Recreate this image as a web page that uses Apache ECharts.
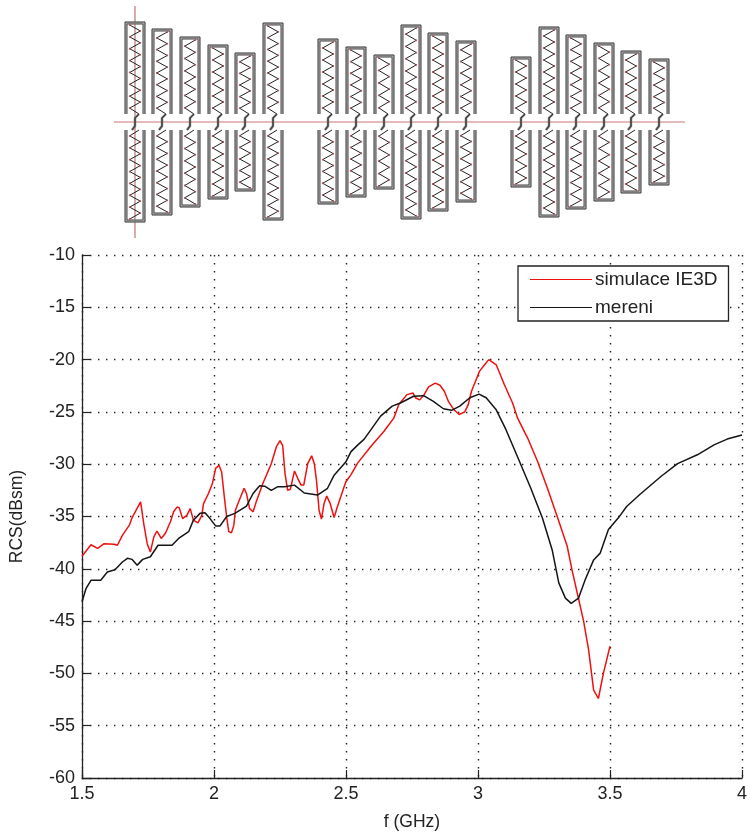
<!DOCTYPE html>
<html>
<head>
<meta charset="utf-8">
<style>html,body{margin:0;padding:0;background:#fff}#c{width:750px;height:836px}</style>
<script src="https://cdn.jsdelivr.net/npm/echarts@6/dist/echarts.min.js"></script>
</head>
<body>
<div id="c"></div>
<script>
// Chart values
var seriesNames = ['simulace IE3D', 'mereni'];
var simulace = [[1.5,-38.8],[1.534,-37.7],[1.559,-38.05],[1.584,-37.6],[1.622,-37.65],[1.634,-37.75],[1.653,-36.8],[1.68,-35.8],[1.69,-35.1],[1.722,-33.6],[1.734,-35.7],[1.747,-37.6],[1.759,-38.4],[1.772,-36.95],[1.784,-36.4],[1.8,-37.1],[1.816,-36.6],[1.835,-35.5],[1.847,-34.55],[1.86,-34.1],[1.868,-34.15],[1.881,-35.2],[1.897,-34.9],[1.91,-34.25],[1.922,-35.35],[1.939,-35.6],[1.954,-34.9],[1.96,-33.8],[1.979,-32.8],[1.994,-31.85],[2.006,-30.4],[2.019,-30.1],[2.029,-30.75],[2.039,-33.1],[2.048,-35.05],[2.056,-36.45],[2.066,-36.55],[2.075,-35.85],[2.081,-34.4],[2.098,-33.3],[2.114,-32.3],[2.123,-32.8],[2.135,-34.25],[2.148,-34.55],[2.16,-33.6],[2.185,-31.85],[2.217,-29.95],[2.236,-28.35],[2.25,-27.75],[2.26,-28.2],[2.269,-30.9],[2.279,-32.5],[2.289,-32.4],[2.305,-30.65],[2.317,-31.35],[2.33,-32],[2.34,-32],[2.355,-29.95],[2.37,-29.2],[2.38,-29.95],[2.388,-31.5],[2.398,-34.4],[2.407,-35.25],[2.417,-33.75],[2.427,-33.05],[2.44,-33.75],[2.455,-35.1],[2.467,-34.1],[2.499,-31.7],[2.519,-31.0],[2.544,-29.9],[2.594,-28.3],[2.644,-26.85],[2.681,-25.6],[2.7,-24.3],[2.731,-23.35],[2.754,-23.2],[2.763,-23.65],[2.779,-23.85],[2.796,-23.35],[2.813,-22.6],[2.838,-22.25],[2.856,-22.45],[2.873,-23.05],[2.888,-24],[2.909,-24.8],[2.929,-25.25],[2.95,-25],[2.963,-24.3],[2.975,-23.05],[2.991,-22.05],[3.006,-21.1],[3.025,-20.5],[3.041,-20],[3.069,-20.5],[3.1,-22.4],[3.131,-24.15],[3.15,-25.6],[3.188,-27.5],[3.225,-29.7],[3.263,-32.3],[3.3,-35],[3.338,-37.85],[3.356,-40.1],[3.379,-42.65],[3.4,-45],[3.419,-47.75],[3.438,-51.6],[3.456,-52.4],[3.475,-50],[3.5,-47.4]];
var mereni = [[1.5,-43.15],[1.515,-41.9],[1.534,-41.1],[1.571,-41.1],[1.596,-40.3],[1.625,-40.1],[1.653,-39.35],[1.672,-39],[1.69,-39.1],[1.709,-39.65],[1.73,-39.1],[1.759,-38.85],[1.788,-37.75],[1.841,-37.75],[1.866,-37.1],[1.904,-36.45],[1.922,-35.35],[1.947,-34.7],[1.966,-34.65],[1.985,-35.2],[2.006,-35.9],[2.023,-35.9],[2.048,-35],[2.079,-34.7],[2.123,-34],[2.148,-32.8],[2.173,-32.05],[2.192,-32.1],[2.217,-32.5],[2.242,-32.15],[2.267,-32.15],[2.305,-32],[2.342,-32.75],[2.392,-32.95],[2.43,-32.3],[2.455,-31.05],[2.499,-29.8],[2.519,-28.8],[2.543,-28.2],[2.569,-27.6],[2.631,-25.4],[2.675,-24.45],[2.706,-24.15],[2.756,-23.5],[2.794,-23.45],[2.831,-24],[2.869,-24.7],[2.9,-24.85],[2.931,-24.45],[2.969,-23.65],[3.004,-23.3],[3.031,-23.65],[3.069,-24.8],[3.106,-26.7],[3.144,-28.95],[3.2,-32.3],[3.244,-35.15],[3.281,-38.2],[3.306,-41.35],[3.331,-42.8],[3.353,-43.3],[3.381,-42.8],[3.406,-41.05],[3.438,-39.15],[3.463,-38.5],[3.494,-36.25],[3.531,-35.15],[3.563,-34.05],[3.613,-32.9],[3.694,-31.15],[3.756,-29.95],[3.831,-29.1],[3.894,-28.15],[3.944,-27.6],[4,-27.2]];

// Antenna sketch above the plot, in picture units
var dipoleLeft   = [125,152,180,208,235,263,318,346,374,401,428,456,511,539,566,594,621,649];
var dipoleTop    = [22,29,37,45,53,23,39,47,55,25,33,41,57,27,35,43,51,59];
var dipoleBottom = [222,215,207,199,191,220,204,197,189,219,211,202,187,217,209,201,193,185];
var feedLine = [[114,122],[685,122]];
var crossLine = [[135,6],[135,238]];

var chart = echarts.init(document.getElementById('c'));
var font = '"Liberation Sans", Arial, sans-serif';
var ink = '#222';

function renderDipole(params, api) {
  var x = api.value(0), top = api.value(1), bot = api.value(2);
  var P = function (a, b) { return api.coord([a, b]); };
  var W = 20, gapTop = 114, gapBot = 130;
  var kids = [];
  function line(pts, color, w) {
    kids.push({ type: 'polyline', shape: { points: pts }, style: { stroke: color, lineWidth: w, fill: null } });
  }
  function arm(yA, yB) {
    var dir = yB > yA ? 1 : -1;
    var pts = [P(x + 14, yA)];
    var n = Math.round(Math.abs(yB - yA - dir * 3) / 6);
    var step = (yB - dir * 3 - yA) / n;
    var dots = [];
    for (var i = 1; i <= n; i++) {
      var q = P(x + 10 + (i % 2 ? -5.3 : 5.3), yA + step * i);
      pts.push(q); dots.push(q);
    }
    line(pts, '#222', 1);
    dots.forEach(function (d) {
      kids.push({ type: 'circle', shape: { cx: d[0], cy: d[1], r: 0.9 }, style: { fill: '#b55' } });
    });
  }
  [[gapTop, top], [gapBot, bot]].forEach(function (s) {
    var a = s[0], b = s[1], d = b > a ? 1 : -1;
    line([P(x + 1, a), P(x + 1, b - d), P(x + 19, b - d), P(x + 19, a)], '#aaa', 2.4);
    line([P(x, a), P(x, b), P(x + W, b), P(x + W, a)], '#444', 1);
    line([P(x + 2, a), P(x + 2, b - d * 2), P(x + 18, b - d * 2), P(x + 18, a)], '#555', 1);
    arm(a, b);
  });
  line([P(x + 14, gapTop), P(x + 10, gapTop + 4), P(x + 10, gapBot - 4), P(x + 7, gapBot)], '#777', 2.4);
  line([P(x + 14, gapTop), P(x + 10, gapTop + 4), P(x + 10, gapBot - 4), P(x + 7, gapBot)], '#222', 0.8);
  return { type: 'group', children: kids };
}

chart.setOption({
  animation: false,
  backgroundColor: '#fff',
  textStyle: { fontFamily: font },
  legend: {
    data: seriesNames,
    orient: 'vertical',
    left: 518, top: 266,
    padding: [4, 11, 4, 12],
    itemWidth: 62, itemHeight: 20, itemGap: 9,
    icon: 'path://M0 9.4H62V10.6H0Z',
    backgroundColor: '#fff',
    borderColor: '#222', borderWidth: 1.3,
    textStyle: { fontFamily: font, fontSize: 19, color: ink, padding: [0, 0, 0, -2] }
  },
  grid: [
    { left: 78.5, right: 5.5, top: 255, bottom: 58 },
    { left: 0, top: 0, width: 750, height: 245 }
  ],
  xAxis: [
    {
      type: 'value', gridIndex: 0, min: 1.5, max: 4, interval: 0.5,
      name: 'f (GHz)', nameLocation: 'middle', nameGap: 35,
      nameTextStyle: { fontFamily: font, fontSize: 17.5, color: ink },
      axisLine: { show: true, onZero: false, lineStyle: { color: ink, width: 1.3 } },
      axisTick: { show: true, inside: true, length: 8, lineStyle: { color: ink, width: 1.2 } },
      axisLabel: { fontFamily: font, fontSize: 18, color: ink, margin: 7, showMinLabel: true, showMaxLabel: true },
      splitLine: { show: true, lineStyle: { color: '#222', width: 1.4, type: [1.4, 6.6] } }
    },
    { type: 'value', gridIndex: 1, min: 0, max: 750, show: false }
  ],
  yAxis: [
    {
      type: 'value', gridIndex: 0, min: -60, max: -10, interval: 5,
      name: 'RCS(dBsm)', nameLocation: 'middle', nameGap: 56,
      nameTextStyle: { fontFamily: font, fontSize: 17.5, color: ink },
      axisLine: { show: true, onZero: false, lineStyle: { color: ink, width: 1.3 } },
      axisTick: { show: true, inside: true, length: 8, lineStyle: { color: ink, width: 1.2 } },
      axisLabel: { fontFamily: font, fontSize: 18, color: ink, margin: 7, showMinLabel: true, showMaxLabel: true },
      splitLine: { show: true, lineStyle: { color: '#222', width: 1.4, type: [1.4, 6.6] } }
    },
    { type: 'value', gridIndex: 1, min: 0, max: 245, inverse: true, show: false }
  ],
  series: [
    {
      name: 'feed', type: 'line', xAxisIndex: 1, yAxisIndex: 1, data: feedLine, symbol: 'none', silent: true,
      lineStyle: { color: '#c77', width: 1.2 }, z: 1
    },
    {
      name: 'cross', type: 'line', xAxisIndex: 1, yAxisIndex: 1, data: crossLine, symbol: 'none', silent: true,
      lineStyle: { color: '#b77', width: 1.2 }, z: 1
    },
    {
      name: 'dipoles', type: 'custom', xAxisIndex: 1, yAxisIndex: 1, clip: false, silent: true, z: 2,
      renderItem: renderDipole,
      data: dipoleLeft.map(function (x, i) { return [x, dipoleTop[i], dipoleBottom[i]]; })
    },
    {
      name: seriesNames[0], type: 'line', xAxisIndex: 0, yAxisIndex: 0, data: simulace, symbol: 'none',
      itemStyle: { color: '#f01010' }, lineStyle: { color: '#f01010', width: 1.5 }, z: 3
    },
    {
      name: seriesNames[1], type: 'line', xAxisIndex: 0, yAxisIndex: 0, data: mereni, symbol: 'none',
      itemStyle: { color: '#151515' }, lineStyle: { color: '#151515', width: 1.5 }, z: 4
    }
  ]
});
</script>
</body>
</html>
